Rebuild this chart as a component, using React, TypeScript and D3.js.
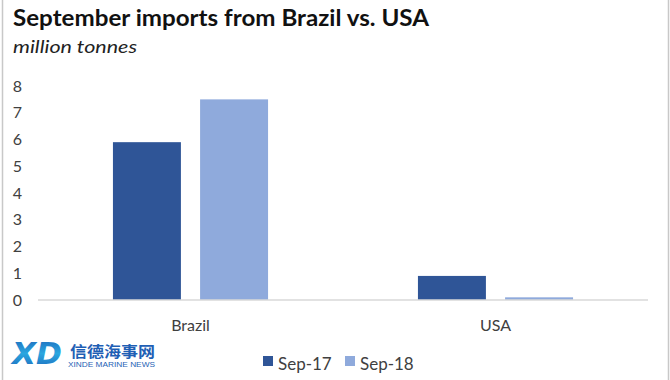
import React from "react";
import * as d3 from "d3";

const categories = ["Brazil", "USA"];
const series = ["Sep-17", "Sep-18"];
const sep17 = [5.9, 0.9];
const sep18 = [7.5, 0.1];
const yTicks = [0, 1, 2, 3, 4, 5, 6, 7, 8];
const colors = ["#2F5597", "#8FAADC"];

export default function App() {
  const W = 670;
  const H = 380;
  const x0 = d3.scaleBand<string>().domain(categories).range([38, 648]);
  const x1 = d3
    .scaleBand<string>()
    .domain(series)
    .range([0, x0.bandwidth()])
    .paddingInner(0.22)
    .paddingOuter(0.86);
  const y = d3.scaleLinear().domain([0, 8]).range([300, 86]);
  const values = [sep17, sep18];
  const font = "Lato, 'Open Sans', sans-serif";

  return (
    <svg
      width={W}
      height={H}
      style={{ position: "fixed", left: 0, top: 0, background: "#fff" }}
      fontFamily={font}
    >
      <defs>
        <linearGradient id="xdg" x1="0" y1="0" x2="0" y2="1">
          <stop offset="0" stopColor="#1d63b8" />
          <stop offset="0.5" stopColor="#2aa7e0" />
          <stop offset="1" stopColor="#1d63b8" />
        </linearGradient>
      </defs>
      <rect x={0} y={0} width={W} height={H} fill="#fff" />
      <line x1={2.5} y1={0} x2={2.5} y2={H} stroke="#c8c8c8" strokeWidth={1.5} />
      <line x1={668.5} y1={0} x2={668.5} y2={H} stroke="#c8c8c8" strokeWidth={1.5} />

      <text
        x={13}
        y={26}
        fontSize={23}
        fontWeight={700}
        fill="#111"
        textLength={416}
        lengthAdjust="spacingAndGlyphs"
      >
        September imports from Brazil vs. USA
      </text>
      <text
        x={13}
        y={53}
        fontSize={18}
        fontStyle="italic"
        fill="#222"
        textLength={124}
        lengthAdjust="spacingAndGlyphs"
      >
        million tonnes
      </text>

      {yTicks.map((t) => (
        <text
          key={t}
          x={22}
          y={y(t)}
          dy="0.35em"
          textAnchor="end"
          fontSize={16}
          fill="#404040"
        >
          {t}
        </text>
      ))}

      {categories.map((c, i) => (
        <g key={c} transform={`translate(${x0(c)},0)`}>
          {series.map((s, j) => (
            <rect
              key={s}
              x={x1(s)}
              y={y(values[j][i])}
              width={x1.bandwidth()}
              height={y(0) - y(values[j][i])}
              fill={colors[j]}
            />
          ))}
          <text
            x={x0.bandwidth() / 2}
            y={331}
            textAnchor="middle"
            fontSize={16}
            fill="#404040"
          >
            {c}
          </text>
        </g>
      ))}

      <line x1={38} y1={300} x2={648} y2={300} stroke="#d9d9d9" strokeWidth={1.5} />

      {series.map((s, j) => {
        const lx = j === 0 ? 263 : 345;
        return (
          <g key={s}>
            <rect x={lx} y={356} width={10} height={10} fill={colors[j]} />
            <text x={lx + 15} y={370} fontSize={17} fill="#404040">
              {s}
            </text>
          </g>
        );
      })}

      <g>
        <text
          x={12}
          y={364}
          fontSize={30}
          fontWeight={900}
          fontStyle="italic"
          fill="url(#xdg)"
          fontFamily="'DejaVu Sans', sans-serif"
          textLength={50}
          lengthAdjust="spacingAndGlyphs"
        >
          XD
        </text>
        <text
          x={70}
          y={357}
          fontSize={15}
          fontWeight={700}
          fill="#1f5fb5"
          fontFamily="'Noto Sans CJK SC', sans-serif"
          textLength={85}
          lengthAdjust="spacingAndGlyphs"
        >
          信德海事网
        </text>
        <text
          x={68}
          y={367}
          fontSize={7.5}
          fill="#1f5fb5"
          fontFamily="'Liberation Sans', sans-serif"
          textLength={87}
          lengthAdjust="spacingAndGlyphs"
        >
          XINDE MARINE NEWS
        </text>
      </g>
    </svg>
  );
}
